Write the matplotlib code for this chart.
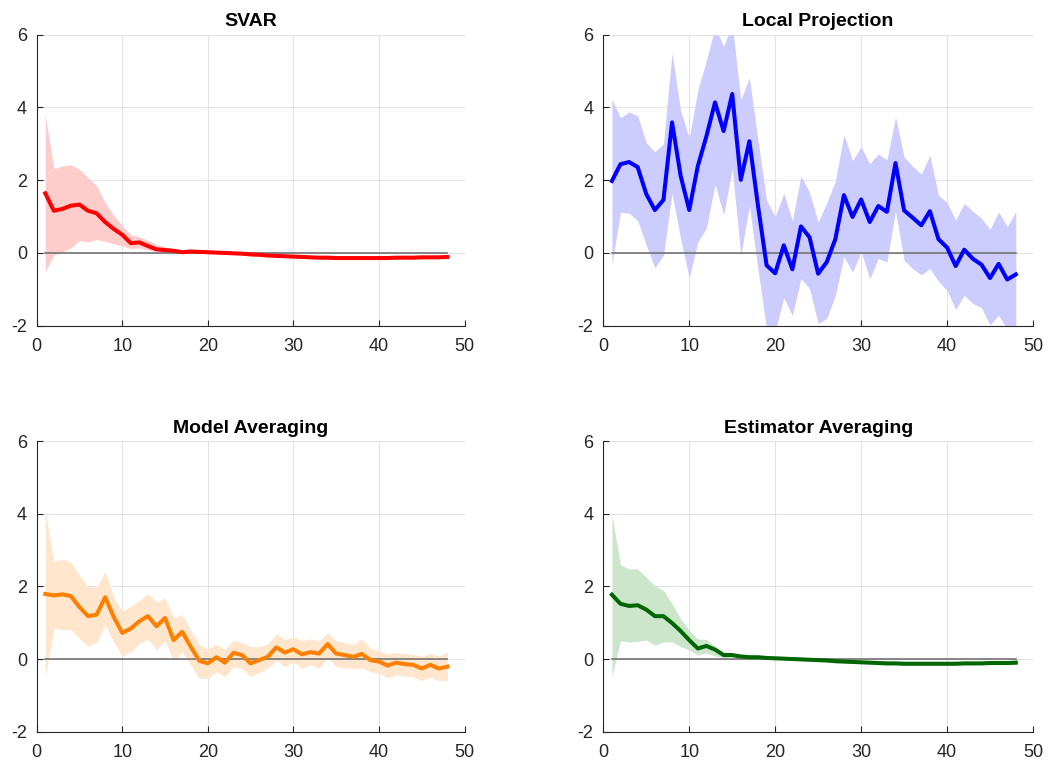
import numpy as np
import matplotlib
matplotlib.use("Agg")
import matplotlib.pyplot as plt

plt.rcParams['font.family'] = ['Liberation Sans', 'DejaVu Sans']
plt.rcParams['axes.unicode_minus'] = False

horizon = list(range(1, 49))

# SVAR
svar_mid = [1.64, 1.16, 1.21, 1.30, 1.33, 1.16, 1.09, 0.85, 0.66, 0.50,
            0.27, 0.29, 0.19, 0.10, 0.08, 0.06, 0.02, 0.04, 0.03, 0.02,
            0.01, 0.00, -0.01, -0.02, -0.04, -0.05, -0.07, -0.08, -0.09, -0.10,
            -0.11, -0.12, -0.13, -0.13, -0.14, -0.14, -0.14, -0.14, -0.14, -0.14,
            -0.14, -0.13, -0.13, -0.13, -0.12, -0.12, -0.12, -0.11]
svar_hi = [3.80, 2.32, 2.39, 2.43, 2.30, 2.07, 1.85, 1.39, 1.03, 0.75,
           0.50, 0.44, 0.35, 0.23, 0.16, 0.12, 0.08, 0.09, 0.07, 0.06,
           0.05, 0.04, 0.03, 0.02, 0.00, -0.01, -0.03, -0.04, -0.05, -0.06,
           -0.07, -0.08, -0.09, -0.09, -0.10, -0.10, -0.10, -0.10, -0.10, -0.10,
           -0.10, -0.09, -0.09, -0.09, -0.08, -0.08, -0.08, -0.07]
svar_lo = [-0.52, -0.06, 0.03, 0.14, 0.34, 0.30, 0.37, 0.32, 0.25, 0.19,
           0.12, 0.14, 0.08, 0.04, 0.02, 0.01, -0.02, 0.00, -0.01, -0.02,
           -0.03, -0.04, -0.05, -0.06, -0.08, -0.09, -0.11, -0.12, -0.13, -0.14,
           -0.15, -0.16, -0.17, -0.17, -0.18, -0.18, -0.18, -0.18, -0.18, -0.18,
           -0.18, -0.17, -0.17, -0.17, -0.16, -0.16, -0.16, -0.15]

# Local projection
lp_mid = [1.98, 2.44, 2.50, 2.36, 1.62, 1.18, 1.46, 3.59, 2.12, 1.18,
          2.39, 3.21, 4.14, 3.35, 4.37, 2.01, 3.07, 1.30, -0.34, -0.56,
          0.21, -0.45, 0.73, 0.43, -0.57, -0.25, 0.38, 1.59, 0.99, 1.47,
          0.85, 1.29, 1.13, 2.47, 1.17, 0.97, 0.76, 1.15, 0.38, 0.15,
          -0.36, 0.09, -0.16, -0.32, -0.69, -0.30, -0.73, -0.59]
lp_hi = [4.23, 3.71, 3.88, 3.77, 3.03, 2.78, 3.00, 5.50, 3.91, 3.16,
         4.48, 5.30, 6.20, 5.68, 6.30, 4.21, 4.82, 3.10, 1.44, 1.00,
         1.64, 0.89, 2.12, 1.66, 0.85, 1.38, 1.97, 3.25, 2.54, 2.92,
         2.45, 2.72, 2.56, 3.73, 2.64, 2.38, 2.17, 2.68, 1.59, 1.38,
         0.91, 1.36, 1.15, 0.95, 0.65, 1.13, 0.73, 1.13]
lp_lo = [-0.32, 1.12, 1.09, 0.89, 0.21, -0.41, -0.06, 1.64, 0.39, -0.68,
         0.30, 0.69, 1.89, 1.05, 2.32, -0.06, 1.30, -0.45, -2.10, -2.15,
         -1.23, -1.72, -0.70, -0.98, -1.94, -1.80, -1.16, -0.10, -0.53, 0.04,
         -0.71, -0.15, -0.25, 1.15, -0.20, -0.43, -0.60, -0.43, -0.78, -1.03,
         -1.56, -1.16, -1.39, -1.50, -1.98, -1.71, -2.10, -2.00]

# Model averaging
ma_mid = [1.79, 1.75, 1.78, 1.73, 1.43, 1.18, 1.22, 1.70, 1.16, 0.72,
          0.84, 1.04, 1.18, 0.90, 1.13, 0.52, 0.75, 0.34, -0.05, -0.12,
          0.05, -0.10, 0.17, 0.11, -0.12, -0.03, 0.06, 0.32, 0.18, 0.27,
          0.13, 0.19, 0.15, 0.41, 0.15, 0.11, 0.06, 0.14, -0.03, -0.07,
          -0.18, -0.10, -0.14, -0.16, -0.26, -0.16, -0.26, -0.21]
ma_hi = [4.09, 2.69, 2.75, 2.66, 2.30, 2.00, 1.98, 2.41, 1.70, 1.32,
         1.45, 1.61, 1.79, 1.57, 1.68, 1.13, 1.22, 0.79, 0.40, 0.27,
         0.41, 0.26, 0.52, 0.45, 0.34, 0.34, 0.41, 0.70, 0.54, 0.61,
         0.50, 0.56, 0.50, 0.72, 0.50, 0.45, 0.40, 0.55, 0.29, 0.23,
         0.14, 0.18, 0.15, 0.13, 0.08, 0.15, 0.08, 0.20]
ma_lo = [-0.48, 0.84, 0.81, 0.81, 0.56, 0.36, 0.46, 0.95, 0.47, 0.08,
         0.20, 0.43, 0.54, 0.26, 0.50, -0.05, 0.20, -0.16, -0.53, -0.53,
         -0.35, -0.48, -0.21, -0.26, -0.48, -0.37, -0.26, -0.03, -0.21, -0.07,
         -0.26, -0.15, -0.26, 0.05, -0.21, -0.24, -0.26, -0.24, -0.35, -0.39,
         -0.51, -0.44, -0.46, -0.50, -0.59, -0.50, -0.59, -0.59]

# Estimator averaging
ea_mid = [1.77, 1.52, 1.46, 1.48, 1.36, 1.18, 1.18, 0.99, 0.77, 0.52,
          0.29, 0.36, 0.26, 0.11, 0.11, 0.07, 0.05, 0.05, 0.03, 0.02,
          0.01, 0.00, -0.01, -0.02, -0.03, -0.04, -0.06, -0.07, -0.08, -0.09,
          -0.10, -0.11, -0.12, -0.12, -0.13, -0.13, -0.13, -0.13, -0.13, -0.13,
          -0.13, -0.12, -0.12, -0.12, -0.11, -0.11, -0.11, -0.10]
ea_hi = [3.98, 2.59, 2.48, 2.48, 2.25, 2.02, 1.89, 1.52, 1.11, 0.79,
         0.55, 0.54, 0.34, 0.17, 0.14, 0.10, 0.08, 0.08, 0.06, 0.05,
         0.04, 0.03, 0.02, 0.01, 0.00, -0.01, -0.02, -0.03, -0.04, -0.05,
         -0.06, -0.07, -0.08, -0.08, -0.09, -0.09, -0.09, -0.09, -0.09, -0.09,
         -0.09, -0.08, -0.08, -0.08, -0.07, -0.07, -0.07, -0.06]
ea_lo = [-0.48, 0.50, 0.47, 0.49, 0.52, 0.38, 0.47, 0.47, 0.34, 0.25,
         0.11, 0.17, 0.08, 0.04, 0.05, 0.03, 0.01, 0.01, 0.00, -0.01,
         -0.02, -0.03, -0.04, -0.05, -0.07, -0.08, -0.10, -0.11, -0.12, -0.13,
         -0.14, -0.15, -0.16, -0.16, -0.17, -0.17, -0.17, -0.17, -0.17, -0.17,
         -0.17, -0.16, -0.16, -0.16, -0.15, -0.15, -0.15, -0.14]

titles = ["SVAR", "Local Projection", "Model Averaging", "Estimator Averaging"]
line_colors = [(1, 0, 0), (0, 0, 1), (1, 0.5, 0), (0, 0.4, 0)]
band_colors = [(1, 0.8, 0.8), (0.8, 0.8, 1), (1, 0.9, 0.8), (0.8, 0.9, 0.8)]
series = [(svar_mid, svar_lo, svar_hi), (lp_mid, lp_lo, lp_hi),
          (ma_mid, ma_lo, ma_hi), (ea_mid, ea_lo, ea_hi)]

W, H = 1049, 765
fig = plt.figure(figsize=(W / 100, H / 100), dpi=100)

# axes rectangles in pixels: left, top, right, bottom
rects = [(36.7, 34.7, 464.5, 325.7), (603.3, 34.7, 1033.0, 325.7),
         (36.7, 441.0, 464.5, 731.7), (603.3, 441.0, 1033.0, 731.7)]

axcol = '#262626'
for i in range(4):
    l, t, r, b = rects[i]
    ax = fig.add_axes([l / W, 1 - b / H, (r - l) / W, (b - t) / H])
    mid, lo, hi = series[i]
    ax.fill_between(horizon, lo, hi, color=band_colors[i], linewidth=0, zorder=2)
    ax.plot(horizon, np.zeros(len(horizon)), color=(0.45, 0.45, 0.45), lw=1.2, zorder=3)
    ax.plot(horizon, mid, color=line_colors[i], lw=2.9, zorder=4)
    ax.set_xlim(0, 50)
    ax.set_ylim(-2, 6)
    ax.set_xticks([0, 10, 20, 30, 40, 50])
    ax.set_yticks([-2, 0, 2, 4, 6])
    ax.grid(True, color='#e3e3e3', lw=0.8, zorder=0)
    ax.set_axisbelow(True)
    for s in ['top', 'right']:
        ax.spines[s].set_visible(False)
    for s in ['left', 'bottom']:
        ax.spines[s].set_color(axcol)
        ax.spines[s].set_linewidth(0.8)
    ax.tick_params(direction='in', length=4, width=0.8, color=axcol,
                   labelcolor=axcol, labelsize=13)
    ax.tick_params(axis='x', pad=9)
    ax.tick_params(axis='y', pad=7)
    ax.set_title(titles[i], fontsize=14, fontweight='bold', color='black', pad=6)

fig.savefig("out.png", dpi=100)
